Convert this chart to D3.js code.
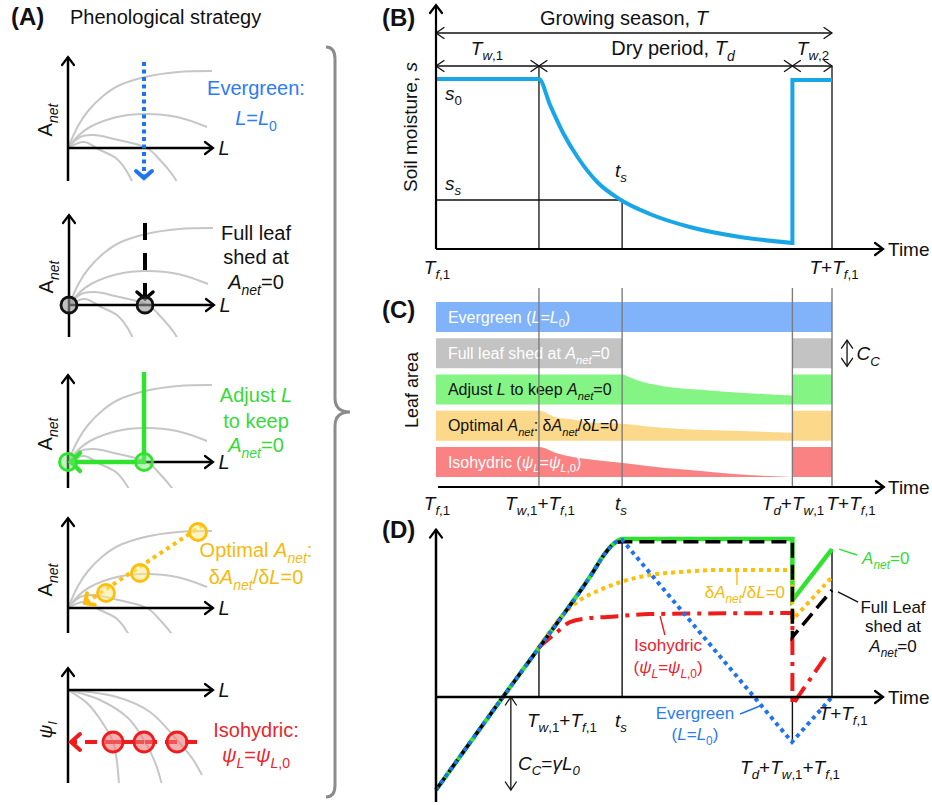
<!DOCTYPE html>
<html>
<head>
<meta charset="utf-8">
<title>Phenological strategies</title>
<script src="https://cdn.jsdelivr.net/npm/d3@7"></script>
<style>
  body { margin: 0; background: #fff; }
  svg { display: block; font-family: 'Liberation Sans', Arial, sans-serif; }
</style>
</head>
<body>
<svg id="fig" width="932" height="805"></svg>
<script>
'use strict';

// ---------- data ----------
// season axis (0-100): Tf1, Tw1+Tf1, ts, Td+Tw1+Tf1, T+Tf1
const keyTimes = [0, 26, 47, 90, 100];
const [T0, TW1, TS, TD, TEND] = keyTimes;

// (A) Anet(L) response curves [L, Anet], wet -> dry
const anetCurves = [
  [[0, 0], [10, 22], [20, 37], [35, 52], [50, 62], [77, 71], [110, 76], [144, 77]],
  [[0, 0], [10, 12], [22, 21], [49, 31], [77, 34], [109, 31], [139, 21]],
  [[0, 0], [12, 11], [26, 13], [46, 9], [79, 0], [92, -12], [106, -29], [112, -40]],
  [[0, 0], [16, 6], [32, -2], [49, -11], [62, -29], [66, -40]]
];
// (A) leaf water potential curves [L, psi]
const psiCurves = [
  [[0, 0], [19, -13], [34, -32], [45, -52], [49, -72], [51, -95]],
  [[0, 0], [32, -10], [60, -28], [76, -50], [87, -72], [94, -95]],
  [[0, 0], [49, -7], [82, -22], [109, -50], [124, -68], [134, -85]]
];
const L0 = 76;
const optimalPts = [[38, 15], [72, 35], [130, 76]];
const isoPsi = -52;
const isoL = [45, 76, 109];

// (B) soil moisture
const s0 = 0.85;
const sStar = 0.245;
const soilDecay = [[26, 0.85], [28.8, 0.72], [32.1, 0.58], [35.9, 0.455], [40.7, 0.335],
  [46.7, 0.245], [54, 0.175], [64.1, 0.11], [76.8, 0.06], [90, 0.03]];
const soilRewet = [[90, 0.03], [90, 0.845], [100, 0.845]];

// (C) relative leaf area per strategy (pieces of [t, L/L0])
const strategies = ['Evergreen', 'Full leaf shed', 'Adjust L', 'Optimal', 'Isohydric'];
const leafRegrow = [[90, 1], [100, 1]];
const leafAdjust = [[0, 1], [47, 1], [49, 0.9], [51, 0.8], [57, 0.62], [66, 0.5], [80, 0.37], [90, 0.3]];
const leafOptimal = [[0, 1], [26, 1], [30.5, 0.77], [34.9, 0.7], [39.4, 0.6], [46.7, 0.57],
  [57.3, 0.43], [75.2, 0.33], [90, 0.27]];
const leafIso = [[0, 1], [26, 1], [30.5, 0.79], [34.9, 0.66], [41.2, 0.55], [48.4, 0.45],
  [57.3, 0.31], [66.3, 0.21], [75.2, 0.1], [84.2, 0.03], [90, 0]];
const leafParts = [
  [[[0, 1], [100, 1]]],
  [[[0, 1], [47, 1]], leafRegrow],
  [leafAdjust, leafRegrow],
  [leafOptimal, leafRegrow],
  [leafIso, leafRegrow]
];
const barText = ['Evergreen (*L*=*L*_{0})', 'Full leaf shed at *A*_{*net*}=0',
  'Adjust *L* to keep *A*_{*net*}=0', 'Optimal *A*_{*net*}: δ*A*_{*net*}/δ*L*=0',
  'Isohydric (*ψ*_{*L*}=*ψ*_{*L*,0})'];

// (D) net carbon gain
const gainRise = [[0, -100], [16.9, 0], [26, 53], [39, 130], [42.8, 155], [45.1, 165.6]];
const gainAdjust = [[47, 170], [90, 170]];
const gainAdjustRegrow = [[90, 170], [90, 104], [100, 159]];
const gainShed = [[47, 167], [90, 167]];
const gainShedRegrow = [[90, 64.5], [100, 115]];
const gainOptimal = [[25.8, 52.7], [28.3, 67.7], [31.3, 84.9], [36.4, 104.3], [41.4, 115.1],
  [46.7, 123.7], [54, 131.2], [61.6, 134.4], [71.7, 136.6], [90, 136.6]];
const gainOptimalRegrow = [[90, 136.6], [90, 82.8], [100, 129]];
const gainIso = [[25.8, 52.7], [30.6, 69.9], [33.8, 80.6], [38.9, 84.9], [43.2, 86],
  [54, 89.2], [90, 90.3]];
const gainIsoRegrow = [[90, 90.3], [90, -8.6], [99, 47.3]];
const gainEverPeak = [[47, 169]];
const gainEverFall = [[89.9, -48.4], [100, 0]];

// ---------- styles ----------
const col = {
  blue: '#2073ee', blueText: '#2b7cf5', sky: '#19a6e6',
  green: '#2fe32f', greenText: '#39d839',
  gold: '#ffbe0a', goldText: '#f5b90f',
  red: '#f01c1c', redText: '#e8262b',
  curve: '#c6c6c6', brace: '#8c8c8c', guide: '#7d7d7d'
};
const barColors = ['#80b3fa', '#c3c3c3', '#84f584', '#fcd88a', '#fa8282'];
const barTextColors = ['#fff', '#fff', '#111', '#111', '#fff'];

const svg = d3.select('#fig');
const defs = svg.append('defs');

// text with *italic* and _{subscript} markup
function rich(parent, x, y, str, o = {}) {
  const size = o.size || 17;
  const t = parent.append('text')
    .attr('x', x).attr('y', y + size * 0.35)
    .attr('font-size', size)
    .attr('fill', o.fill || '#111')
    .attr('text-anchor', o.anchor || 'start');
  if (o.weight) t.attr('font-weight', o.weight);
  if (o.rotate) t.attr('transform', `rotate(${o.rotate},${x},${y})`);
  const runs = [];
  let it = false, sub = false, buf = '';
  const flush = () => { if (buf) runs.push({ s: buf, it, sub }); buf = ''; };
  for (let i = 0; i < str.length; i++) {
    const c = str[i];
    if (c === '*') { flush(); it = !it; }
    else if (c === '_' && str[i + 1] === '{') { flush(); sub = true; i++; }
    else if (c === '}' && sub) { flush(); sub = false; }
    else buf += c;
  }
  flush();
  let cur = 0;
  runs.forEach(r => {
    const target = r.sub ? size * 0.3 : 0;
    const ts = t.append('tspan').text(r.s)
      .attr('dy', target - cur)
      .attr('font-size', r.sub ? size * 0.7 : size);
    if (r.it) ts.attr('font-style', 'italic');
    cur = target;
  });
  return t;
}

function arrowMarker(id, color, len, half, sw) {
  const m = defs.append('marker').attr('id', id)
    .attr('viewBox', `${-sw} ${-half - sw} ${len + 2 * sw} ${2 * half + 2 * sw}`)
    .attr('refX', len).attr('refY', 0)
    .attr('markerWidth', len + 2 * sw).attr('markerHeight', 2 * half + 2 * sw)
    .attr('markerUnits', 'userSpaceOnUse')
    .attr('orient', 'auto-start-reverse')
    .style('overflow', 'visible');
  m.append('path').attr('d', `M0,${-half}L${len},0L0,${half}`)
    .attr('fill', 'none').attr('stroke', color).attr('stroke-width', sw)
    .attr('stroke-linecap', 'round');
}
arrowMarker('ax', '#000', 8, 6, 2.2);
arrowMarker('thin', '#111', 8, 5.5, 1.3);
arrowMarker('mBlue', col.blue, 7, 8, 4);
arrowMarker('mBlack', '#000', 7, 8, 3.5);
arrowMarker('mGreen', col.green, 9, 9, 4.5);
arrowMarker('mGold', col.gold, 7, 7, 4);
arrowMarker('mRed', col.red, 9, 8, 4);

const line = d3.line();
function draw(g, pts, stroke, sw, o = {}) {
  const p = g.append('path').attr('d', line(pts))
    .attr('fill', 'none').attr('stroke', stroke).attr('stroke-width', sw);
  if (o.dash) p.attr('stroke-dasharray', o.dash);
  if (o.end) p.attr('marker-end', `url(#${o.end})`);
  if (o.start) p.attr('marker-start', `url(#${o.start})`);
  return p;
}

// ---------- (A) phenological strategies ----------
rich(svg, 11, 17, '(A)', { size: 24, weight: 'bold' });
rich(svg, 70, 17, 'Phenological strategy', { size: 20 });

const subLayout = [
  { ox: 68, oy: 148, top: 91, bot: -33 },
  { ox: 69, oy: 305, top: 90, bot: -32 },
  { ox: 68, oy: 462, top: 87, bot: -26 },
  { ox: 68, oy: 608, top: 90, bot: -25 },
  { ox: 68, oy: 690, top: 22, bot: -93 }
];
const stratLabels = [
  ['Evergreen:', '*L*=*L*_{0}'],
  ['Full leaf', 'shed at', '*A*_{*net*}=0'],
  ['Adjust *L*', 'to keep', '*A*_{*net*}=0'],
  ['Optimal *A*_{*net*}:', 'δ*A*_{*net*}/δ*L*=0'],
  ['Isohydric:', '*ψ*_{*L*}=*ψ*_{*L*,0}']
];
const labelRows = [[-60, -30], [-72, -48, -23], [-67, -41, -17], [-58, -31], [40, 65]];
const labelColors = [col.blueText, '#111', col.greenText, col.goldText, col.redText];

subLayout.forEach((s, i) => {
  const g = svg.append('g');
  const x = d3.scaleLinear().domain([0, 1]).range([s.ox, s.ox + 1]);
  const y = d3.scaleLinear().domain([0, 1]).range([s.oy, s.oy - 1]);

  const clipId = 'clipA' + i;
  defs.append('clipPath').attr('id', clipId).append('rect')
    .attr('x', x(0)).attr('y', y(s.top))
    .attr('width', 160).attr('height', y(s.bot) - y(s.top));
  const cl = d3.line().x(d => x(d[0])).y(d => y(d[1])).curve(d3.curveCatmullRom);
  g.append('g').attr('clip-path', `url(#${clipId})`)
    .selectAll('path').data(i < 4 ? anetCurves : psiCurves).join('path')
    .attr('d', cl).attr('fill', 'none')
    .attr('stroke', col.curve).attr('stroke-width', 2);

  draw(g, [[x(0), y(s.bot)], [x(0), y(s.top)]], '#000', 2.5, { end: 'ax' });
  draw(g, [[x(0), y(0)], [x(145), y(0)]], '#000', 2.5, { end: 'ax' });
  rich(g, x(156), y(0), '*L*', { size: 20, anchor: 'middle' });
  if (i < 4) rich(g, x(-23), y(28), 'A_{*net*}', { size: 20, anchor: 'middle', rotate: -90 });
  else rich(g, x(-23), y(-40), '*ψ*_{*l*}', { size: 19, anchor: 'middle', rotate: -90 });

  const ring = (pts, stroke, fill, r) => g.selectAll(null).data(pts).join('circle')
    .attr('cx', d => x(d[0])).attr('cy', d => y(d[1])).attr('r', r)
    .attr('fill', fill).attr('stroke', stroke).attr('stroke-width', 2.8);

  if (i === 0) {
    draw(g, [[x(L0), y(86)], [x(L0), y(-30)]], col.blue, 4, { dash: '4 3.5', end: 'mBlue' });
  } else if (i === 1) {
    draw(g, [[x(L0), y(82)], [x(L0), y(6)]], '#000', 4, { dash: '17 13', end: 'mBlack' });
    ring([[0, 0], [L0, 0]], '#111', 'rgba(150,150,150,0.6)', 8);
  } else if (i === 2) {
    draw(g, [[x(L0), y(90)], [x(L0), y(0)], [x(3), y(0)]], col.green, 4.5, { end: 'mGreen' });
    ring([[0, 0], [L0, 0]], col.green, 'rgba(120,230,120,0.45)', 8.5);
  } else if (i === 3) {
    draw(g, [[x(135), y(83)], [x(17), y(5)]], col.gold, 4, { dash: '4 4', end: 'mGold' });
    ring(optimalPts, col.gold, 'rgba(255,235,140,0.55)', 8.5);
  } else {
    draw(g, [[x(129), y(isoPsi)], [x(3), y(isoPsi)]], col.red, 4, { dash: '12 8', end: 'mRed' });
    draw(g, [[x(isoL[0]), y(isoPsi)], [x(isoL[1]), y(isoPsi)]], col.red, 4);
    ring(isoL.map(l => [l, isoPsi]), col.red, 'rgba(240,120,120,0.6)', 10);
  }

  stratLabels[i].forEach((txt, k) => {
    rich(g, 256, s.oy + labelRows[i][k], txt, { size: 20, anchor: 'middle', fill: labelColors[i] });
  });
});

// curly brace grouping panel A
(() => {
  const bx = 335, top = 47, mid = 412, bot = 797;
  const p = d3.path();
  p.moveTo(bx - 9, top);
  p.quadraticCurveTo(bx, top, bx, top + 12);
  p.lineTo(bx, mid - 14);
  p.quadraticCurveTo(bx, mid, bx + 15, mid);
  p.quadraticCurveTo(bx, mid, bx, mid + 14);
  p.lineTo(bx, bot - 12);
  p.quadraticCurveTo(bx, bot, bx - 9, bot);
  svg.append('path').attr('d', p.toString()).attr('fill', 'none')
    .attr('stroke', col.brace).attr('stroke-width', 3);
})();

// shared time scale
const xT = d3.scaleLinear().domain([0, 100]).range([436, 832]);

// ---------- (B) soil moisture ----------
const gB = svg.append('g');
const yB = d3.scaleLinear().domain([0, 1]).range([249, 49]);
rich(gB, 382, 18, '(B)', { size: 24, weight: 'bold' });

draw(gB, [[xT(TW1), yB(0.915)], [xT(TW1), yB(0)]], '#111', 1.3);
draw(gB, [[xT(TEND), yB(0.915)], [xT(TEND), yB(0)]], '#111', 1.3);
draw(gB, [[xT(T0), yB(sStar)], [xT(TS), yB(sStar)], [xT(TS), yB(0)]], '#111', 1.3);
draw(gB, [[xT(T0), yB(1.08)], [xT(TEND), yB(1.08)]], '#111', 1.3, { start: 'thin', end: 'thin' });
[[T0, TW1], [TW1, TD], [TD, TEND]].forEach(([a, b]) => {
  draw(gB, [[xT(a), yB(0.915)], [xT(b), yB(0.915)]], '#111', 1.3, { start: 'thin', end: 'thin' });
});

const soilLine = d3.line().x(d => xT(d[0])).y(d => yB(d[1]));
gB.append('path')
  .attr('d', soilLine.curve(d3.curveMonotoneX)([[0, s0], ...soilDecay]) +
    soilLine.curve(d3.curveLinear)(soilRewet).replace(/^M/, 'L'))
  .attr('fill', 'none').attr('stroke', col.sky).attr('stroke-width', 4);

draw(gB, [[xT(0), yB(0)], [xT(0), yB(1.22)]], '#000', 2.2, { end: 'ax' });
draw(gB, [[xT(0), yB(0)], [xT(112.9), yB(0)]], '#000', 2.2, { end: 'ax' });

rich(gB, 624, 18, 'Growing season, *T*', { size: 20, anchor: 'middle' });
rich(gB, 487, 48, '*T*_{*w*,1}', { size: 19, anchor: 'middle' });
rich(gB, 673, 48, 'Dry period, *T*_{*d*}', { size: 20, anchor: 'middle' });
rich(gB, 813, 48, '*T*_{*w*,2}', { size: 19, anchor: 'middle' });
rich(gB, 410, 127, 'Soil moisture, *s*', { size: 19, anchor: 'middle', rotate: -90 });
rich(gB, 445, 93, '*s*_{0}', { size: 19 });
rich(gB, 445, 183, '*s*_{*s*}', { size: 19 });
rich(gB, 621, 170, '*t*_{*s*}', { size: 19, anchor: 'middle' });
rich(gB, 437, 267, '*T*_{*f*,1}', { size: 19, anchor: 'middle' });
rich(gB, 834, 267, '*T*+*T*_{*f*,1}', { size: 19, anchor: 'middle' });
rich(gB, 888, 249, 'Time', { size: 19 });

// ---------- (C) leaf area ----------
const gC = svg.append('g');
rich(gC, 382, 310, '(C)', { size: 24, weight: 'bold' });
const band = d3.scaleBand().domain(strategies).range([302, 477]).paddingInner(0.17);
const bw = band.bandwidth();
strategies.forEach((name, i) => {
  const base = band(name) + bw;
  const area = d3.area().x(d => xT(d[0])).y0(base).y1(d => base - d[1] * bw)
    .curve(d3.curveMonotoneX);
  gC.selectAll(null).data(leafParts[i]).join('path')
    .attr('d', area).attr('fill', barColors[i]);
  rich(gC, xT(3), band(name) + bw / 2, barText[i], { size: 16, fill: barTextColors[i] });
});
gC.selectAll(null).data(keyTimes.slice(1)).join('line')
  .attr('x1', d => xT(d)).attr('x2', d => xT(d))
  .attr('y1', 288).attr('y2', 487)
  .attr('stroke', col.guide).attr('stroke-width', 1.4);
draw(gC, [[xT(0.5), 487], [xT(113.1), 487]], '#000', 2.2, { end: 'ax' });
draw(gC, [[xT(103.8), band('Full leaf shed') + 2], [xT(103.8), band('Full leaf shed') + bw - 2]],
  '#111', 1.3, { start: 'thin', end: 'thin' });
rich(gC, xT(106.2), band('Full leaf shed') + bw / 2, '*C*_{*C*}', { size: 19 });
rich(gC, 412, 390, 'Leaf area', { size: 18, anchor: 'middle', rotate: -90 });
rich(gC, 888, 487, 'Time', { size: 19 });
[[437, '*T*_{*f*,1}'], [540, '*T*_{*w*,1}+*T*_{*f*,1}'], [621, '*t*_{*s*}'],
 [793, '*T*_{*d*}+*T*_{*w*,1}'], [851, '*T*+*T*_{*f*,1}']].forEach(([x, s]) => {
  rich(gC, x, 503, s, { size: 19, anchor: 'middle' });
});

// ---------- (D) net carbon gain ----------
const gD = svg.append('g');
rich(gD, 382, 530, '(D)', { size: 24, weight: 'bold' });
const yD = d3.scaleLinear().domain([-100, 0]).range([790, 697]);
const dLine = c => d3.line().x(d => xT(d[0])).y(d => yD(d[1])).curve(c);
const mono = dLine(d3.curveMonotoneX);
const lin = dLine(d3.curveLinear);
const join = (a, b) => mono(a) + lin(b).replace(/^M/, 'L');

// guide lines
[[TW1, 53, 0], [TS, 169, 0], [TD, 0, -48.4], [TEND, 159, 0]].forEach(([t, a, b]) => {
  draw(gD, [[xT(t), yD(a)], [xT(t), yD(b)]], '#111', 1.4);
});

const series = [
  { d: join([...gainRise, ...gainAdjust], gainAdjustRegrow.slice(1)), c: col.green, w: 4.5 },
  { d: join(gainOptimal, gainOptimalRegrow.slice(1)), c: col.gold, w: 4, dash: '4 4' },
  { d: join(gainIso, gainIsoRegrow.slice(1)), c: col.red, w: 4, dash: '18 7 4 7' },
  { d: join([...gainRise, ...gainShed], gainShedRegrow), c: '#000', w: 3.5, dash: '15 7' },
  { d: join([...gainRise, ...gainEverPeak], gainEverFall), c: col.blue, w: 4, dash: '4 4' }
];
gD.selectAll(null).data(series).join('path')
  .attr('d', d => d.d).attr('fill', 'none')
  .attr('stroke', d => d.c).attr('stroke-width', d => d.w)
  .attr('stroke-dasharray', d => d.dash || null);

// axes
draw(gD, [[xT(0), yD(-113)], [xT(0), yD(180)]], '#000', 2.5, { end: 'ax' });
draw(gD, [[xT(0), yD(0)], [xT(112.9), yD(0)]], '#000', 2.5, { end: 'ax' });
draw(gD, [[xT(18.9), yD(0)], [xT(18.9), yD(-100)]], '#111', 1.3, { start: 'thin', end: 'thin' });
rich(gD, 888, yD(0), 'Time', { size: 19 });

// leaders
[[[76.8, -18.3], [81.8, -9.7], col.blue], [[101.8, 159], [106.3, 152.7], col.green],
 [[101.5, 113], [106.6, 102], '#111'], [[76, 134.4], [76, 120.4], col.gold],
 [[56.6, 87], [57.8, 66.7], col.red]].forEach(([a, b, c]) => {
  draw(gD, [[xT(a[0]), yD(a[1])], [xT(b[0]), yD(b[1])]], c, 1.4);
});

rich(gD, xT(31.8), 720, '*T*_{*w*,1}+*T*_{*f*,1}', { size: 19, anchor: 'middle' });
rich(gD, xT(46.7), 720, '*t*_{*s*}', { size: 19, anchor: 'middle' });
rich(gD, xT(102.8), 713, '*T*+*T*_{*f*,1}', { size: 19, anchor: 'middle' });
rich(gD, xT(89.4), 767, '*T*_{*d*}+*T*_{*w*,1}+*T*_{*f*,1}', { size: 19, anchor: 'middle' });
rich(gD, xT(20.7), 763, '*C*_{*C*}=*γL*_{*0*}', { size: 19 });
rich(gD, xT(65.4), 713, 'Evergreen', { size: 17, anchor: 'middle', fill: col.blueText });
rich(gD, xT(65.4), 734, '(*L*=*L*_{0})', { size: 17, anchor: 'middle', fill: col.blueText });
rich(gD, xT(107.6), yD(149.5), '*A*_{*net*}=0', { size: 17, fill: col.greenText });
rich(gD, xT(78), yD(113), 'δ*A*_{*net*}/δ*L*=0', { size: 17, anchor: 'middle', fill: col.goldText });
rich(gD, xT(58.6), yD(56), 'Isohydric', { size: 17, anchor: 'middle', fill: col.redText });
rich(gD, xT(58.6), yD(32), '(*ψ*_{*L*}=*ψ*_{*L*,0})', { size: 17, anchor: 'middle', fill: col.redText });
['Full Leaf', 'shed at', '*A*_{*net*}=0'].forEach((s, k) => {
  rich(gD, 893, 607 + k * 19.5, s, { size: 17, anchor: 'middle' });
});
</script>
</body>
</html>
